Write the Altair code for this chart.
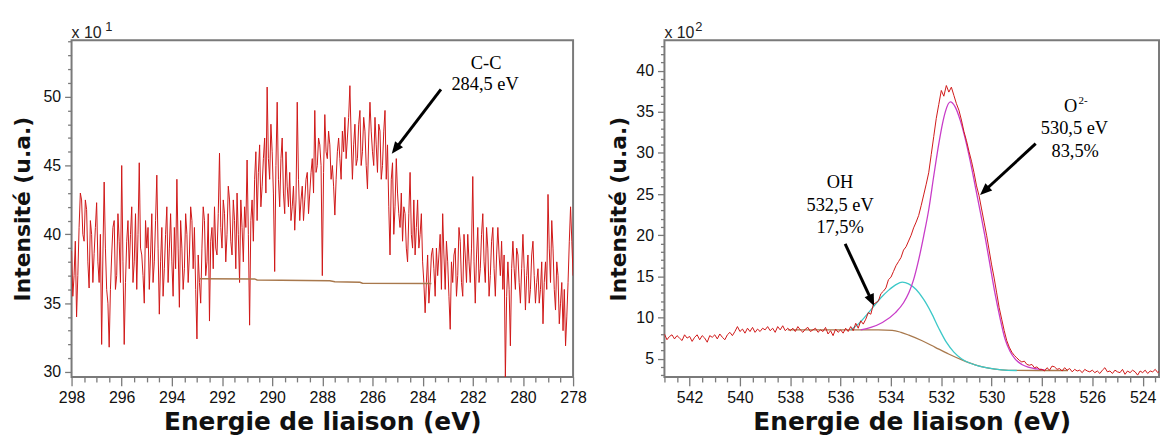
import altair as alt
import pandas as pd

# ---------------- Left panel : C 1s (values in units of 10^1) ----------------
# samples at 298.0, 297.9, ... 278.0
c_intensity = [
    38.8, 37.0, 34.0, 40.5, 42.5, 39.5, 41.8, 36.1, 40.0, 38.6,
    42.3, 36.5, 32.0, 43.8, 36.0, 31.8, 38.5, 41.0, 37.0, 39.5,
    45.0, 32.0, 39.5, 37.5, 42.0, 38.0, 36.0, 45.2, 38.5, 35.0,
    39.0, 36.0, 41.5, 38.0, 44.3, 34.2, 40.5, 37.5, 42.0, 39.0,
    38.0, 40.5, 44.0, 34.7, 39.0, 37.5, 40.0, 38.5, 41.0, 40.5,
    32.4, 36.5, 39.0, 41.0, 38.0, 33.7, 40.5, 42.0, 38.5, 45.9,
    39.0, 41.5, 40.0, 42.5, 38.5, 41.0, 43.0, 36.5, 40.5, 42.0,
    45.4, 33.4, 42.5, 44.0, 41.0, 46.5, 43.5, 47.0, 50.7, 44.0,
    46.0, 37.3, 49.6, 42.0, 47.0, 41.5, 43.5, 44.5, 42.0, 40.3,
    49.6, 41.0, 43.5, 42.5, 44.5, 43.0, 45.5, 49.0, 45.0, 46.5,
    37.0, 48.7, 45.5, 46.5, 45.0, 41.4, 46.0, 45.5, 47.5, 48.5,
    47.0, 50.8, 44.0, 48.0, 45.5, 49.0, 46.0, 47.5, 43.3, 49.6,
    46.0, 48.5, 44.5, 47.5, 45.0, 49.0, 46.5, 38.5, 45.2, 42.0,
    43.0, 40.5, 39.5, 41.5, 38.0, 44.5, 39.0, 38.5, 42.5, 40.0,
    38.0, 34.3, 38.5, 36.5, 39.0, 35.5, 37.0, 40.0, 41.5, 36.0,
    38.0, 33.1, 36.5, 39.0, 37.0, 39.5, 35.5, 38.5, 40.0, 36.5,
    44.2, 35.0, 40.5, 37.5, 41.5, 36.5, 39.0, 37.0, 40.5, 35.5,
    40.5, 37.0, 36.0, 29.6, 38.0, 31.9, 39.5, 36.0, 38.5, 35.0,
    40.0, 34.5, 38.5, 36.0, 39.5, 35.0, 37.5, 36.0, 33.5, 38.0,
    42.9, 36.5, 39.0, 34.5, 37.0, 35.0, 33.0, 31.9, 36.5, 42.0,
    37.0,
]
# samples in between, at 297.95, 297.85, ... 278.05
c_intensity_mid = [
    35.5, 39.5, 37.0, 43.0, 40.0, 42.5, 38.0, 41.0, 36.5, 40.5,
    38.0, 40.0, 38.5, 39.0, 35.0, 36.0, 40.5, 36.0, 41.5, 36.5,
    38.0, 36.5, 41.0, 40.0, 36.5, 41.5, 40.0, 39.0, 37.0, 41.0,
    40.5, 38.5, 36.5, 41.0, 39.0, 38.0, 35.5, 40.0, 36.5, 41.5,
    35.5, 37.5, 39.0, 41.0, 36.0, 41.5, 36.5, 42.0, 37.5, 36.0,
    38.5, 35.0, 42.0, 37.0, 41.5, 39.5, 37.5, 39.0, 41.5, 40.5,
    42.5, 38.0, 43.5, 39.5, 42.5, 37.5, 40.0, 42.5, 38.0, 40.5,
    40.0, 41.0, 39.5, 46.0, 44.5, 42.0, 45.5, 43.0, 45.5, 48.0,
    43.0, 45.0, 44.0, 45.5, 43.0, 46.0, 42.0, 41.0, 43.5, 42.5,
    44.0, 42.5, 41.0, 44.0, 41.5, 44.5, 43.0, 44.5, 47.0, 45.0,
    44.5, 46.0, 47.5, 44.0, 43.5, 44.0, 47.0, 44.0, 46.0, 45.5,
    48.5, 47.0, 46.5, 45.0, 48.0, 45.0, 48.5, 45.0, 47.0, 47.5,
    45.0, 46.5, 48.0, 44.0, 47.5, 44.0, 42.0, 44.0, 40.0, 45.5,
    41.5, 43.0, 42.0, 39.0, 41.5, 40.0, 42.5, 40.5, 39.0, 41.5,
    36.5, 36.5, 35.0, 38.5, 37.5, 39.0, 38.5, 36.0, 38.5, 39.5,
    35.5, 38.0, 38.5, 35.5, 40.5, 36.5, 40.0, 36.5, 38.0, 39.0,
    38.0, 38.5, 36.5, 40.0, 38.0, 40.5, 35.5, 39.5, 37.5, 38.5,
    38.5, 39.5, 38.5, 35.5, 36.0, 37.5, 37.5, 39.0, 36.5, 37.5,
    37.5, 37.0, 35.0, 38.5, 37.0, 36.5, 35.0, 38.0, 36.5, 36.0,
    39.0, 41.0, 36.0, 38.0, 33.5, 36.5, 36.0, 34.0, 39.5, 39.5,
]
c_energy = [round(298.0 - 0.1 * i, 2) for i in range(len(c_intensity))]
c_energy_mid = [round(297.95 - 0.1 * i, 2) for i in range(len(c_intensity_mid))]

c_bg_energy = [292.88, 290.7, 290.6, 287.7, 287.5, 286.5, 286.4, 283.65]
c_bg_intensity = [36.78, 36.76, 36.68, 36.62, 36.56, 36.52, 36.45, 36.42]

# ---------------- Right panel : O 1s (values in units of 10^2) ----------------
o_intensity = [
    8.0, 7.3, 7.7, 7.9, 7.4, 7.8, 7.5, 7.2, 7.9, 7.5,
    7.7, 7.1, 7.6, 7.9, 7.3, 7.8, 7.5, 7.0, 7.8, 7.6,
    7.9, 7.4, 8.0, 7.6, 7.3, 7.9, 8.2, 7.8, 8.3, 8.9,
    8.3, 8.6, 8.1, 8.7, 8.3, 8.8, 8.2, 8.6, 8.3, 8.7,
    8.5, 8.9, 8.4, 8.7, 8.2, 8.9, 8.5, 9.0, 8.4, 8.7,
    8.4, 8.7, 8.3, 8.9, 8.5, 8.2, 8.6, 8.8, 8.3, 8.5,
    8.7, 8.2, 8.5, 8.3, 8.8, 8.0, 8.4, 7.8, 8.6, 8.2,
    8.5, 8.1, 8.7, 8.3, 8.9, 8.4, 9.3, 8.7, 9.6, 9.2,
    9.8, 10.6, 10.4, 11.6, 11.8, 12.0, 12.9, 13.2, 13.6, 14.6,
    14.9, 15.6, 16.3, 16.8, 17.3, 18.2, 18.6, 19.3, 20.0, 20.9,
    21.6, 22.4, 23.6, 24.9, 26.2, 27.6, 29.8, 32.0, 34.2, 35.9,
    37.6, 36.9, 38.2, 37.4, 38.0, 37.0, 36.0, 35.2, 34.0, 32.6,
    31.5, 30.2, 29.0, 27.6, 26.0, 24.8, 23.2, 21.6, 20.0, 18.2,
    16.4, 14.8, 13.0, 11.2, 9.8, 8.4, 7.2, 6.4, 5.8, 5.4,
    5.1, 4.8, 4.6, 4.7, 4.3, 4.2, 4.3, 3.9, 4.0, 3.7,
    3.7, 3.5, 3.9, 3.6, 4.1, 4.0, 3.7, 3.8, 3.5, 3.9,
    3.6, 3.8, 3.4, 3.7, 3.5, 3.6, 3.3, 3.7, 3.5, 3.4,
    3.6, 3.3, 3.5, 3.2, 3.6, 3.9, 3.4, 3.5, 3.2, 3.6,
    3.4, 3.3, 3.7, 3.1, 3.5, 3.3, 3.6, 3.4, 3.0, 3.5,
    3.3, 3.6, 3.2, 3.5, 3.4, 3.7, 3.3, 3.6, 3.4, 3.8,
]
o_energy = [round(543.0 - 0.1 * i, 1) for i in range(len(o_intensity))]

o2_energy = [535.2, 534.8, 534.34, 533.82, 533.5, 533.29, 533.1, 532.9, 532.7, 532.5,
             532.3, 532.1, 531.95, 531.84, 531.64, 531.45, 531.25, 531.05, 530.85, 530.66,
             530.46, 530.26, 530.06, 529.87, 529.67, 529.47, 529.27, 529.07, 528.8, 528.55,
             528.2, 527.9]
o2_intensity = [8.5, 8.8, 9.4, 10.6, 11.8, 13.0, 14.6, 17.0, 19.9, 23.1,
                27.2, 31.1, 33.6, 35.0, 36.2, 35.6, 34.0, 31.75, 29.0, 26.1,
                23.0, 19.8, 16.3, 13.0, 10.0, 7.4, 5.9, 4.97, 4.3, 3.97,
                3.75, 3.64]

oh_energy = [535.6, 535.3, 535.0, 534.7, 534.4, 534.1, 533.8, 533.55, 533.3, 533.0,
             532.7, 532.4, 532.1, 531.8, 531.5, 531.2, 530.9, 530.5, 530.1, 529.6, 529.0]
oh_intensity = [8.5, 9.2, 10.2, 11.3, 12.4, 13.3, 14.0, 14.3, 14.1, 13.4,
                12.2, 10.6, 8.7, 7.0, 5.8, 5.0, 4.5, 4.1, 3.85, 3.65, 3.56]

o_bg_energy = [538.1, 537.0, 536.0, 535.0, 534.5, 533.95, 533.6, 533.29, 532.76, 532.24,
               531.71, 531.18, 530.66, 530.13, 529.6, 529.0, 528.0, 526.97]
o_bg_intensity = [8.5, 8.5, 8.5, 8.5, 8.5, 8.45, 8.2, 7.86, 7.18, 6.38,
                  5.57, 4.85, 4.25, 3.85, 3.64, 3.57, 3.56, 3.56]

# ---------------- Annotations ----------------
c_labels = ["C-C", "284,5 eV"]
c_label_e = [281.47, 281.51]
c_label_v = [52.47, 50.9]

o_labels = ["O", "530,5 eV", "83,5%", "OH", "532,5 eV", "17,5%"]
o_label_e = [526.86, 526.71, 526.68, 536.02, 536.02, 536.02]
o_label_v = [35.7, 33.07, 30.2, 26.43, 23.7, 21.0]

c_arrow = dict(e=[283.27], v=[50.53], et=[285.23], vt=[45.86], a=[217.6])
o_arrow = dict(e=[528.25, 535.82], v=[31.14, 18.95], et=[530.46, 534.67], vt=[24.9, 11.4],
               a=[227.3, 155.6])

# tick positions (minor every 0.5 eV / 1 unit, labelled majors)
c_xticks = [298 - 0.5 * i for i in range(41)]
c_yticks = list(range(30, 55))
o_xticks = [543 - 0.5 * i for i in range(40)]
o_yticks = list(range(3, 44))

FRAME = "#7a7a7a"
AX = dict(grid=False, domain=False, labelOverlap=False, labelFlush=False,
          tickColor=FRAME, tickWidth=1.3, labelFont="Liberation Sans",
          labelFontSize=16, labelColor="#111111",
          titleFont="DejaVu Sans", titleFontWeight="bold", titleColor="#111111")


def xenc(domain, ticks, field="e"):
    return alt.X(f"{field}:Q", scale=alt.Scale(domain=domain, nice=False, zero=False),
                 axis=alt.Axis(values=ticks, title="Energie de liaison (eV)",
                               labelExpr="datum.value % 2 === 0 ? format(datum.value, 'd') : ''",
                               tickSize={"condition": {"test": "datum.value % 2 === 0", "value": 9},
                                         "value": 5},
                               labelPadding=4, titleY=53.3, titleBaseline="alphabetic",
                               titleFontSize=25, **AX))


def yenc(domain, ticks, title_x, height, field="v"):
    return alt.Y(f"{field}:Q", scale=alt.Scale(domain=domain, nice=False, zero=False),
                 axis=alt.Axis(values=ticks, title="Intensité (u.a.)",
                               labelExpr="datum.value % 5 === 0 ? format(datum.value, 'd') : ''",
                               tickSize={"condition": {"test": "datum.value % 5 === 0", "value": 7},
                                         "value": 4},
                               labelPadding=4, titleX=title_x, titleY=height / 2,
                               titleBaseline="alphabetic", titleFontSize=22, **AX))


HEAD = "M0,0 L0.42,1 L-0.42,1 Z"


def panel(xdom, xt, ydom, yt, title_x, w, h, lines, labels, arrows, sup_top, sup_dx, sup_label=None):
    X = xenc(xdom, xt)
    Y = yenc(ydom, yt, title_x, h)
    layers = []
    for e, v, color, sw, interp in lines:
        df = pd.DataFrame({"e": e, "v": v}).sort_values("e", ascending=False)
        layers.append(alt.Chart(df).mark_line(color=color, strokeWidth=sw, clip=True,
                                              interpolate=interp)
                      .encode(x=X, y=Y, order=alt.Order("i:Q"))
                      .transform_window(i="row_number()"))
    t, le, lv = labels
    tdf = pd.DataFrame({"e": le, "v": lv, "t": t})
    layers.append(alt.Chart(tdf).mark_text(font="Liberation Serif", fontSize=18.5, color="black",
                                           align="center", baseline="middle")
                  .encode(x=X, y=Y, text="t:N"))
    if sup_label is not None:
        sdf = pd.DataFrame({"e": [sup_label[0]], "v": [sup_label[1]], "t": ["2-"]})
        layers.append(alt.Chart(sdf).mark_text(font="Liberation Serif", fontSize=11, color="black",
                                               align="left", baseline="middle", dx=8, dy=-5)
                      .encode(x=X, y=Y, text="t:N"))
    adf = pd.DataFrame(arrows)
    adf["e2"] = adf["e"] + 0.87 * (adf["et"] - adf["e"])
    adf["v2"] = adf["v"] + 0.87 * (adf["vt"] - adf["v"])
    layers.append(alt.Chart(adf).mark_rule(color="black", strokeWidth=3)
                  .encode(x=X, y=Y, x2=alt.X2("e2:Q"), y2=alt.Y2("v2:Q")))
    hdf = adf[["et", "vt", "a"]].rename(columns={"et": "e", "vt": "v"})
    layers.append(alt.Chart(hdf).mark_point(shape=HEAD, filled=True, size=576, color="black",
                                            opacity=1, strokeWidth=0)
                  .encode(x=X, y=Y, angle=alt.Angle("a:Q", scale=None)))
    mult = pd.DataFrame({"t": ["x 10"]})
    layers.append(alt.Chart(mult).mark_text(font="Liberation Sans", fontSize=16, color="#222222",
                                            align="left", baseline="alphabetic")
                  .encode(x=alt.value(0), y=alt.value(-2), text="t:N"))
    sup = pd.DataFrame({"t": [sup_top]})
    layers.append(alt.Chart(sup).mark_text(font="Liberation Sans", fontSize=13, color="#222222",
                                           align="left", baseline="alphabetic")
                  .encode(x=alt.value(sup_dx), y=alt.value(-9), text="t:N"))
    return alt.layer(*layers).properties(width=w, height=h)


left = panel([298, 278], c_xticks, [29.64, 54.1], c_yticks, -42, 505, 339,
             [(c_energy + c_energy_mid, c_intensity + c_intensity_mid, "#d01818", 1, "linear"),
              (c_bg_energy, c_bg_intensity, "#a8784c", 1.5, "linear")],
             (c_labels, c_label_e, c_label_v), c_arrow, "1", 34)

right = panel([543, 523.35], o_xticks, [2.78, 43.7], o_yticks, -39.2, 498, 339,
              [(o_bg_energy, o_bg_intensity, "#a8784c", 1.3, "monotone"),
               (oh_energy, oh_intensity, "#3cc8c8", 1.3, "monotone"),
               (o2_energy, o2_intensity, "#c83cc8", 1.3, "monotone"),
               (o_energy, o_intensity, "#d01818", 1, "linear")],
              (o_labels, o_label_e, o_label_v), o_arrow, "2", 31,
              sup_label=(526.86, 35.7))

chart = (alt.hconcat(left, right, spacing=92, bounds="flush")
         .properties(padding={"left": 3, "top": 11, "right": 0, "bottom": 0}, background="white")
         .configure_view(stroke=FRAME, strokeWidth=2))

chart.save("out.html", embed_options={"renderer": "svg", "actions": False})
